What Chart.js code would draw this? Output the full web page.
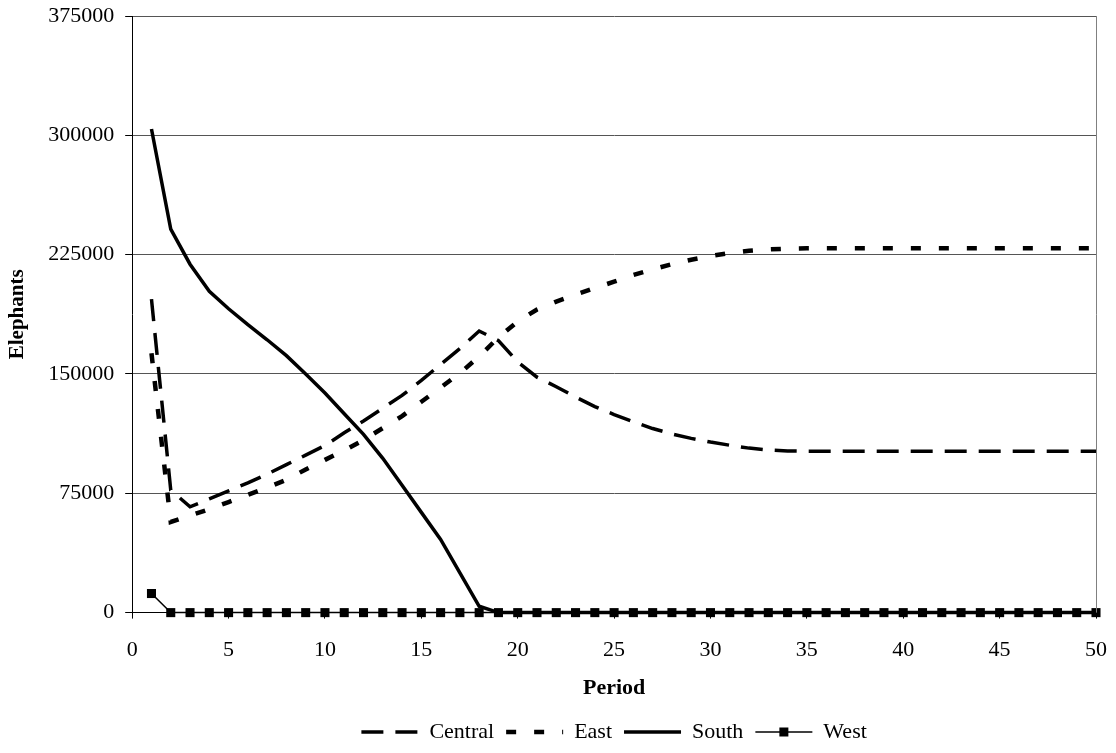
<!DOCTYPE html>
<html>
<head>
<meta charset="utf-8">
<script src="https://cdn.jsdelivr.net/npm/chart.js@4.4.1/dist/chart.umd.min.js"></script>
<style>
  html, body { margin: 0; padding: 0; background: #fff; }
  #wrap { width: 1116px; height: 753px; }
</style>
</head>
<body>
<div id="wrap"><canvas id="chart" width="1116" height="753"></canvas></div>
<script>
// --- Data ---
const periods = [1, 2, 3, 4, 5, 6, 7, 8, 9, 10, 11, 12, 13, 14, 15, 16, 17, 18, 19, 20,
  21, 22, 23, 24, 25, 26, 27, 28, 29, 30, 31, 32, 33, 34, 35, 36, 37, 38, 39, 40,
  41, 42, 43, 44, 45, 46, 47, 48, 49, 50];

const central = [197000, 77000, 66500, 71500, 76500, 81500, 87000, 93000, 99000, 105000,
  113000, 120500, 128500, 136500, 146000, 156000, 166000, 177000, 171000, 157500,
  148000, 142000, 135500, 129500, 124500, 120000, 115700, 112300, 109500, 107200,
  105200, 103400, 102200, 101600, 101500, 101500, 101500, 101500, 101500, 101500,
  101500, 101500, 101500, 101500, 101500, 101500, 101500, 101500, 101500, 101500];

const east = [163000, 57000, 61000, 65000, 69500, 74000, 78500, 83500, 90000, 96000,
  102000, 108500, 116000, 123500, 132500, 141500, 150500, 161000, 173000, 183000,
  190500, 195500, 199800, 204000, 208000, 212200, 215800, 219000, 221800, 224100,
  226000, 227400, 228300, 228800, 229000, 229000, 229000, 229000, 229000, 229000,
  229000, 229000, 229000, 229000, 229000, 229000, 229000, 229000, 229000, 229000];

const south = [304000, 241000, 219000, 202000, 191000, 181000, 171500, 161500, 150000, 138000,
  125000, 112000, 97000, 80000, 63000, 46000, 25000, 4000, 0, 0,
  0, 0, 0, 0, 0, 0, 0, 0, 0, 0,
  0, 0, 0, 0, 0, 0, 0, 0, 0, 0,
  0, 0, 0, 0, 0, 0, 0, 0, 0, 0];

const west = [12000, 0, 0, 0, 0, 0, 0, 0, 0, 0,
  0, 0, 0, 0, 0, 0, 0, 0, 0, 0,
  0, 0, 0, 0, 0, 0, 0, 0, 0, 0,
  0, 0, 0, 0, 0, 0, 0, 0, 0, 0,
  0, 0, 0, 0, 0, 0, 0, 0, 0, 0];

const yTicks = [0, 75000, 150000, 225000, 300000, 375000];
const xTicks = [0, 5, 10, 15, 20, 25, 30, 35, 40, 45, 50];

// --- Helpers ---
const FONT = "'Liberation Serif', 'Times New Roman', serif";
const toPoints = (vals) => vals.map((v, i) => ({ x: periods[i], y: v }));

// right border of the plot + the square marker in the West legend sample
const extras = {
  id: 'extras',
  afterDraw(chart) {
    const { ctx, chartArea } = chart;
    ctx.save();
    ctx.strokeStyle = '#808080';
    ctx.lineWidth = 1;
    ctx.beginPath();
    ctx.moveTo(chartArea.right + 0.5, chartArea.top);
    ctx.lineTo(chartArea.right + 0.5, chartArea.bottom);
    ctx.stroke();

    const boxes = chart.legend.legendHitBoxes;
    const westBox = boxes[3];
    if (westBox) {
      const cx = westBox.left + 57 / 2;
      const cy = westBox.top + westBox.height / 2;
      ctx.fillStyle = '#000';
      ctx.fillRect(cx - 4.5, cy - 4.5, 9, 9);
    }
    ctx.restore();
  }
};

Chart.defaults.font.family = FONT;
Chart.defaults.color = '#000';

new Chart(document.getElementById('chart'), {
  type: 'line',
  data: {
    datasets: [
      { label: 'Central', data: toPoints(central), borderColor: '#000', borderWidth: 3.5,
        borderDash: [22, 12], pointRadius: 0, order: 3 },
      { label: 'East', data: toPoints(east), borderColor: '#000', borderWidth: 4.5,
        borderDash: [10, 18], pointRadius: 0, order: 2 },
      { label: 'South', data: toPoints(south), borderColor: '#000', borderWidth: 3.5,
        pointRadius: 0, order: 1, clip: false },
      { label: 'West', data: toPoints(west), borderColor: '#000', borderWidth: 1.5,
        pointStyle: 'rect', pointRadius: 6.4, pointBackgroundColor: '#000',
        pointBorderWidth: 0, order: 0, clip: false }
    ]
  },
  options: {
    responsive: false,
    animation: false,
    layout: { padding: { left: 2, right: 20, top: 16, bottom: 0 } },
    plugins: {
      tooltip: { enabled: false },
      legend: {
        position: 'bottom',
        fullSize: false,
        labels: {
          font: { size: 22 },
          color: '#000',
          usePointStyle: true,
          pointStyleWidth: 57,
          padding: 12,
          sort: (a, b) => a.datasetIndex - b.datasetIndex,
          generateLabels(chart) {
            return chart.data.datasets.map((ds, i) => ({
              text: ds.label,
              datasetIndex: i,
              pointStyle: 'line',
              strokeStyle: '#000',
              fillStyle: '#000',
              fontColor: '#000',
              lineWidth: i === 3 ? 1.5 : ds.borderWidth,
              lineDash: ds.borderDash || [],
              hidden: false
            }));
          }
        }
      }
    },
    scales: {
      x: {
        type: 'linear',
        min: 0,
        max: 50,
        afterBuildTicks: (axis) => { axis.ticks = xTicks.map(v => ({ value: v })); },
        afterFit: (axis) => { axis.paddingRight = 12; },
        ticks: { font: { size: 22, lineHeight: 0.65 }, color: '#000', padding: 24, maxRotation: 0 },
        grid: { drawOnChartArea: false, drawTicks: true, tickLength: 6, color: '#000' },
        border: { color: '#000', width: 1 },
        title: { display: true, text: 'Period', font: { size: 22, weight: 'bold', lineHeight: 0.64 },
          color: '#000', padding: { top: 0, bottom: 14 } }
      },
      y: {
        min: 0,
        max: 375000,
        afterBuildTicks: (axis) => { axis.ticks = yTicks.map(v => ({ value: v })); },
        afterFit: (axis) => { axis.paddingTop = 0; },
        ticks: { font: { size: 22 }, color: '#000', padding: 11,
          callback: (v) => String(v) },
        grid: { color: '#555', tickColor: '#000', tickLength: 7 },
        border: { color: '#000', width: 1 },
        title: { display: true, text: 'Elephants', font: { size: 21, weight: 'bold' },
          color: '#000', padding: { top: 3, bottom: 7 } }
      }
    }
  },
  plugins: [extras]
});
</script>
</body>
</html>
